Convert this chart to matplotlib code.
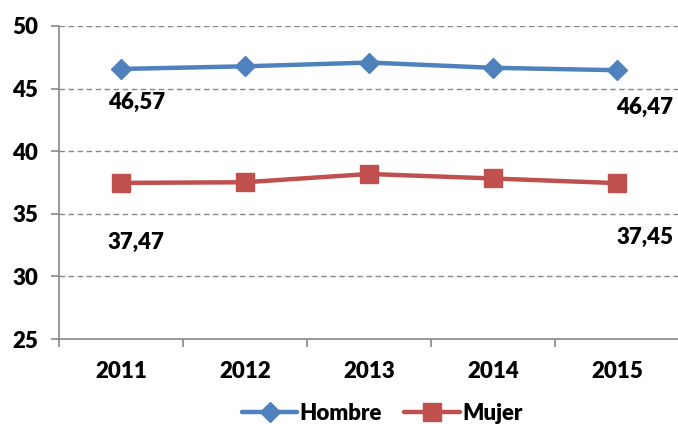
import matplotlib
matplotlib.use("Agg")
import matplotlib.pyplot as plt
from matplotlib.ticker import FixedLocator

years = ["2011", "2012", "2013", "2014", "2015"]
hombre = [46.57, 46.78, 47.08, 46.66, 46.47]
mujer = [37.47, 37.52, 38.18, 37.82, 37.45]
label_hombre = ["46,57", None, None, None, "46,47"]
label_mujer = ["37,47", None, None, None, "37,45"]
yticks = [25, 30, 35, 40, 45, 50]

FS = 16
W = 'heavy'
plt.rcParams['font.family'] = 'Lato'
plt.rcParams['font.weight'] = W

fig = plt.figure(figsize=(6.78, 4.24), dpi=100)
ax = fig.add_axes([59/678, 1 - 339/424, 620/678, (339-26)/424])

blue = "#4F81BD"
red = "#C0504D"
x = list(range(len(years)))
ax.plot(x, hombre, color=blue, lw=3.2, marker='D', ms=10, label="Hombre",
        solid_capstyle='round', zorder=3)
ax.plot(x, mujer, color=red, lw=3.2, marker='s', ms=13.5, label="Mujer",
        solid_capstyle='round', zorder=3)

offs_h = {0: (11, -24), 4: (20, -27)}
offs_m = {0: (11, -43), 4: (20, -39)}
for i, t in enumerate(label_hombre):
    if t:
        ax.annotate(t, (x[i], hombre[i]), xytext=offs_h[i], textcoords='offset points',
                    ha='center', va='center', fontsize=FS, family='Lato', weight=W, color='black')
for i, t in enumerate(label_mujer):
    if t:
        ax.annotate(t, (x[i], mujer[i]), xytext=offs_m[i], textcoords='offset points',
                    ha='center', va='center', fontsize=FS, family='Lato', weight=W, color='black')

ax.set_xlim(-0.5, 4.5)
ax.set_ylim(25, 50)
ax.set_yticks(yticks)
ax.set_yticklabels([str(v) for v in yticks], family='Lato', weight=W, fontsize=FS)
ax.set_xticks(x)
ax.set_xticklabels(years, family='Lato', weight=W, fontsize=FS)
ax.tick_params(axis='x', which='major', length=0, pad=16)
ax.xaxis.set_minor_locator(FixedLocator([-0.5, 0.5, 1.5, 2.5, 3.5, 4.5]))
ax.tick_params(axis='x', which='minor', length=6, color='#888888', width=1.2, direction='out')
ax.tick_params(axis='y', length=6, color='#888888', width=1.2, direction='out', pad=9)

for y in yticks[1:]:
    ax.axhline(y, color='#888888', lw=1, ls=(0, (4, 2.5)), zorder=1)

for s in ['top', 'right']:
    ax.spines[s].set_visible(False)
for s in ['left', 'bottom']:
    ax.spines[s].set_color('#888888')
    ax.spines[s].set_linewidth(1.2)

leg = fig.legend(loc='center', bbox_to_anchor=(382/678, 1 - 413/424), ncol=2, frameon=False,
                 handlelength=2.5, columnspacing=1.0, handletextpad=0.1,
                 prop={'weight': W, 'size': FS, 'family': 'Lato'})

fig.savefig("out.png", dpi=100)
